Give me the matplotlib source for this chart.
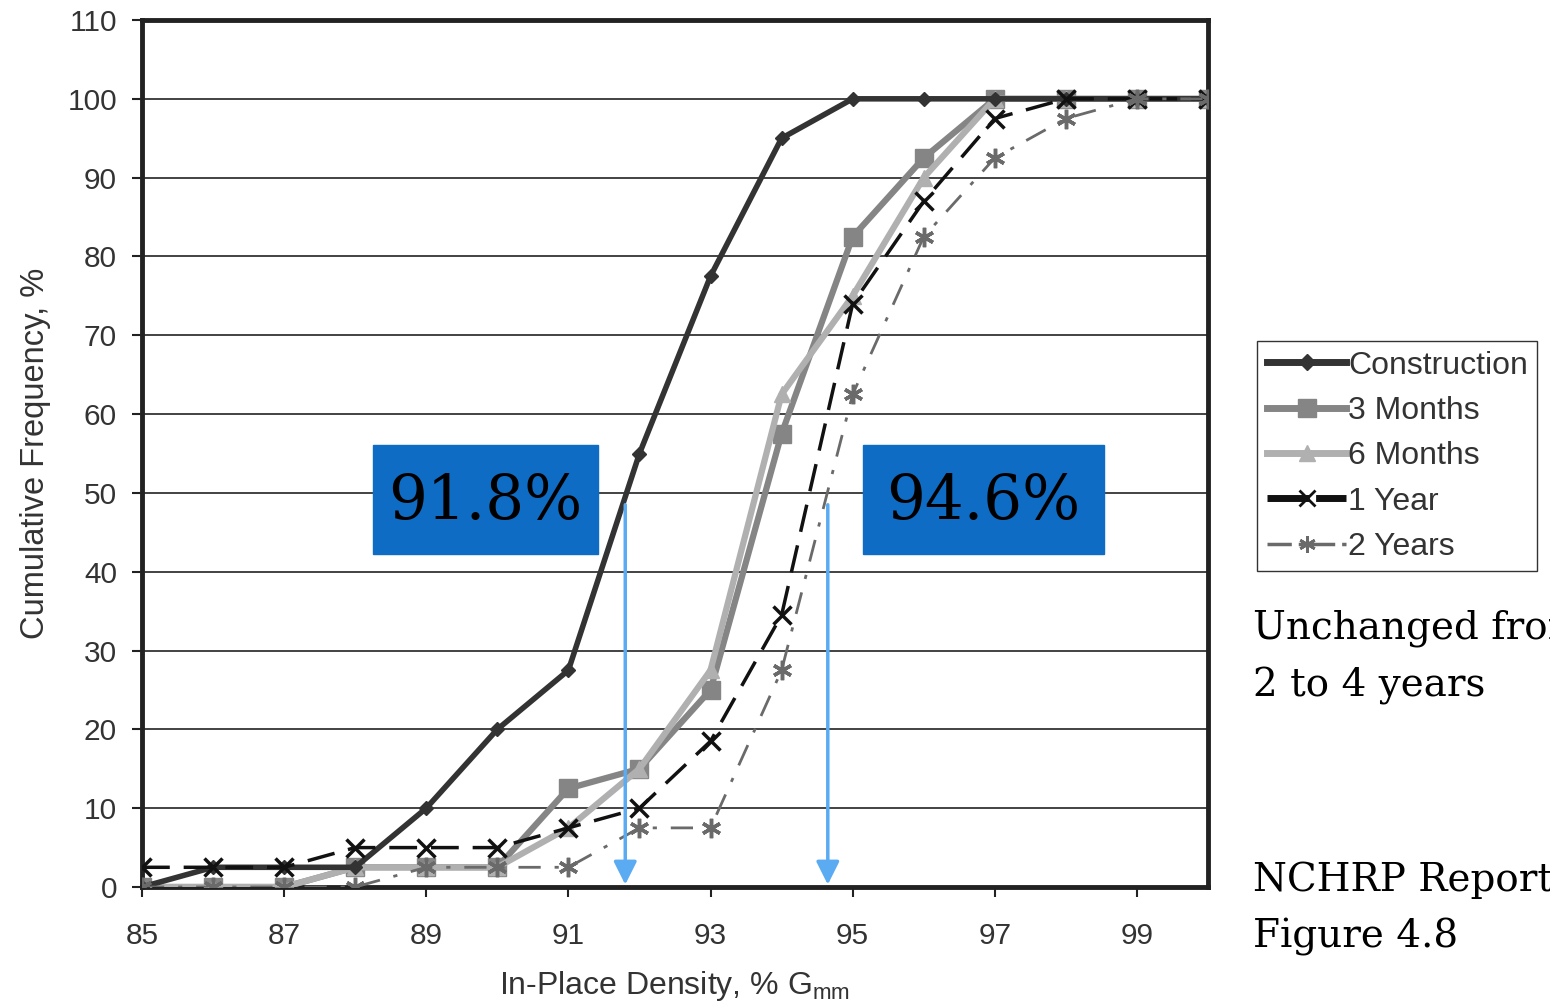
import numpy as np
import matplotlib.pyplot as plt
from matplotlib.lines import Line2D

plt.rcParams['font.family'] = ['Liberation Sans', 'DejaVu Sans']

density = [85, 86, 87, 88, 89, 90, 91, 92, 93, 94, 95, 96, 97, 98, 99, 100]

construction = [0, 2.5, 2.5, 2.5, 10, 20, 27.5, 55, 77.5, 95, 100, 100, 100, 100, 100, 100]
months_3 = [0, 0, 0, 2.5, 2.5, 2.5, 12.5, 15, 25, 57.5, 82.5, 92.5, 100, 100, 100, 100]
months_6 = [0, 0, 0, 2.5, 2.5, 2.5, 7.5, 15, 27.5, 62.5, 75, 90, 100, 100, 100, 100]
year_1 = [2.5, 2.5, 2.5, 5, 5, 5, 7.5, 10, 18.5, 34.5, 74, 87, 97.5, 100, 100, 100]
years_2 = [0, 0, 0, 0, 2.5, 2.5, 2.5, 7.5, 7.5, 27.5, 62.5, 82.5, 92.5, 97.5, 100, 100]

x_ticks = [85, 87, 89, 91, 93, 95, 97, 99]
y_ticks = list(range(0, 111, 10))

callouts = ["91.8%", "94.6%"]
callout_x = [91.8, 94.65]

fig = plt.figure(figsize=(15.5, 10.06), dpi=100)
ax = fig.add_axes([142 / 1550, 119 / 1006, 1066 / 1550, 867 / 1006])

ax.plot(density, construction, color="#333333", lw=4, marker="D", ms=7,
        label="Construction", zorder=5)
ax.plot(density, months_3, color="#858585", lw=4.5, marker="s", ms=13,
        label="3 Months", zorder=3)
ax.plot(density, months_6, color="#b0b0b0", lw=4.5, marker="^", ms=12,
        label="6 Months", zorder=4)
ax.plot(density, year_1, color="#111111", lw=2.5, ls=(0, (8, 4)), marker="x",
        ms=13, mew=2.5, label="1 Year", zorder=6)
ax.plot(density, years_2, color="#6a6a6a", lw=2, ls=(0, (8, 5, 1.5, 5)),
        marker=(6, 2, 0), ms=14, mew=2.5, label="2 Years", zorder=6)

ax.set_xlim(85, 100)
ax.set_ylim(0, 110)
ax.set_xticks(x_ticks)
ax.set_yticks(y_ticks)
ax.grid(axis="y", color="#222222", lw=1.2)
ax.tick_params(axis="both", labelsize=21.5, colors="#222222", labelcolor="#333333",
               length=7, width=1.5)
ax.tick_params(axis="x", pad=18)
ax.tick_params(axis="y", pad=11)
for s in ax.spines.values():
    s.set_linewidth(3.5)
    s.set_color("#222222")

ax.set_xlabel("In-Place Density, % G$_{\\mathregular{mm}}$", fontsize=23,
              color="#333333", labelpad=14)
ax.set_ylabel("Cumulative Frequency, %", fontsize=23.5, color="#333333", labelpad=12)

# arrows and callout boxes
for txt, xv in zip(callouts, callout_x):
    ax.annotate("", xy=(xv, 0.3), xytext=(xv, 48.5),
                arrowprops=dict(arrowstyle="-|>", color="#5aabf2", lw=2.5,
                                mutation_scale=35, shrinkA=0, shrinkB=0),
                zorder=8)

fig.patches.append(plt.Rectangle((373 / 1550, 1 - 554 / 1006), 225 / 1550, 109 / 1006,
                                 transform=fig.transFigure, color="#0f6cc4", zorder=9))
fig.patches.append(plt.Rectangle((863 / 1550, 1 - 554 / 1006), 241 / 1550, 109 / 1006,
                                 transform=fig.transFigure, color="#0f6cc4", zorder=9))
fig.text(485 / 1550, 1 - 502 / 1006, callouts[0], fontsize=44, family="DejaVu Serif",
         ha="center", va="center", color="black", zorder=10)
fig.text(983 / 1550, 1 - 502 / 1006, callouts[1], fontsize=44, family="DejaVu Serif",
         ha="center", va="center", color="black", zorder=10)

handles = [
    Line2D([], [], color="#333333", lw=5, marker="D", ms=8),
    Line2D([], [], color="#858585", lw=5, marker="s", ms=13),
    Line2D([], [], color="#b0b0b0", lw=5, marker="^", ms=12),
    Line2D([], [], color="#111111", lw=5, ls=(0, (6, 1)), marker="x", ms=12, mew=2),
    Line2D([], [], color="#6a6a6a", lw=2.5, ls=(0, (7, 2, 1.5, 2)),
           marker=(6, 2, 0), ms=12, mew=2),
]
fig.legend(handles, ["Construction", "3 Months", "6 Months", "1 Year", "2 Years"],
           loc="upper left", bbox_to_anchor=(1257 / 1550, 1 - 341 / 1006),
           fontsize=23, handlelength=2.5, handletextpad=0.05, labelspacing=0.48,
           borderpad=0.3, borderaxespad=0, fancybox=False, edgecolor="#333333",
           framealpha=1, labelcolor="#333333")

fig.text(1253 / 1550, 1 - 628 / 1006, "Unchanged from", fontsize=28,
         family="DejaVu Serif", va="center", ha="left")
fig.text(1253 / 1550, 1 - 686 / 1006, "2 to 4 years", fontsize=28,
         family="DejaVu Serif", va="center", ha="left")
fig.text(1253 / 1550, 1 - 880 / 1006, "NCHRP Report", fontsize=28,
         family="DejaVu Serif", va="center", ha="left")
fig.text(1253 / 1550, 1 - 937 / 1006, "Figure 4.8", fontsize=28,
         family="DejaVu Serif", va="center", ha="left")

fig.savefig("out.png", dpi=100)
